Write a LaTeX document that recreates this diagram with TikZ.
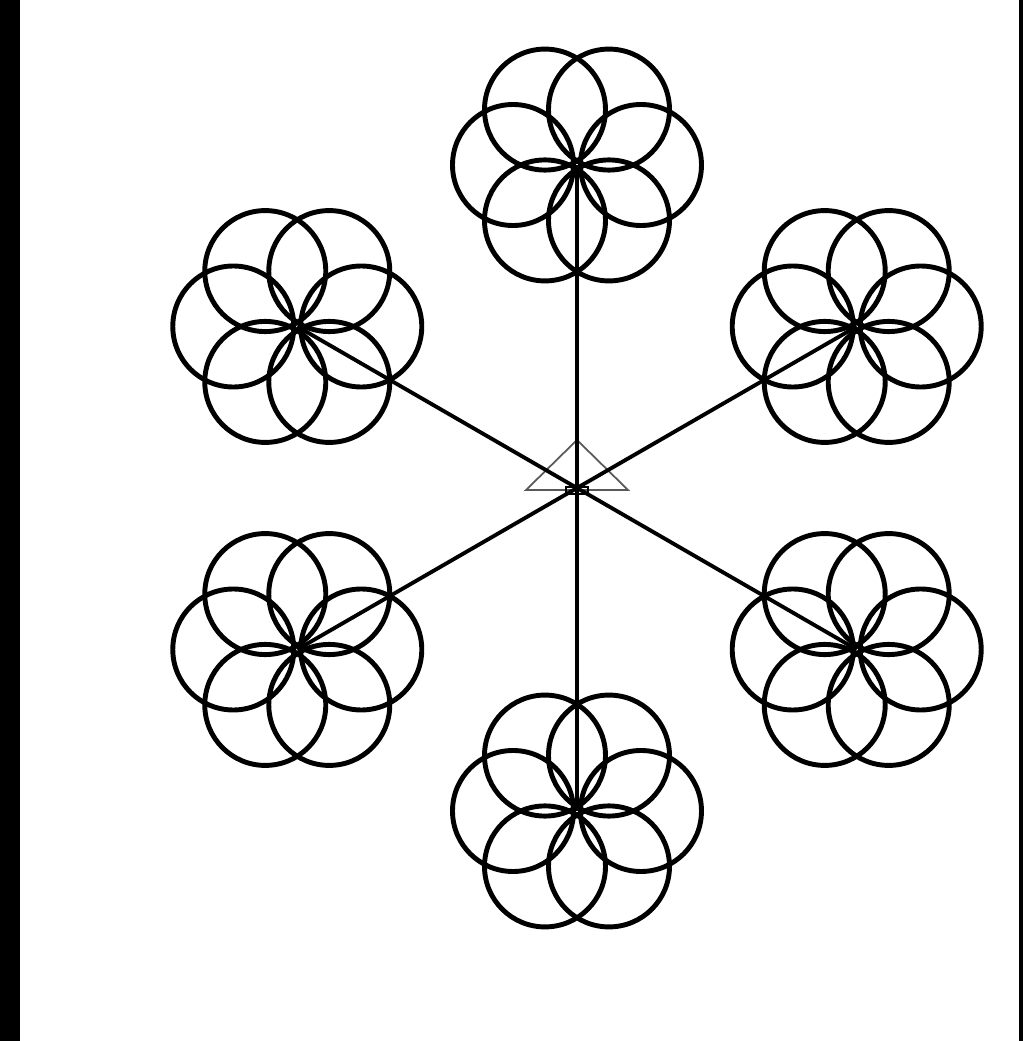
\documentclass[tikz,border=0pt]{standalone}
\begin{document}
\begin{tikzpicture}[
			ring/.style={draw=black, line width=1.4pt},
			spoke/.style={draw=black, line width=1.1pt},
			]
			\useasboundingbox (0,0) rectangle (10.24,10.41);
			
			% Frame bars at the sides
			\fill[black] (0,0) rectangle (0.2,10.41);
			\fill[black] (10.19,0) rectangle (10.23,10.41);
			
			% Hub with its small triangle
			\coordinate (hub) at (5.77,5.53);
			\draw[gray!70!black, line width=0.5pt] (hub) ++(-0.51,-0.02) -- ++(0.51,0.50) -- ++(0.51,-0.50) -- cycle;
			\draw[line width=0.6pt] (hub) ++(-0.11,-0.06) rectangle ++(0.22,0.07);
			
			% Flower centres around the hub
			\foreach \a [count=\n from 1] in {90,30,-30,-90,-150,150} {
				\coordinate (f\n) at ([shift={(\a:3.23)}]hub);
			}
			
			% Spokes and six-circle flowers
			\foreach \n in {1,...,6} {
				\draw[spoke] (hub) -- (f\n);
				\foreach \b in {0,60,...,300}
					\draw[ring] (f\n) ++(\b:0.64) circle (0.605);
			}
			
		\end{tikzpicture}
\end{document}
